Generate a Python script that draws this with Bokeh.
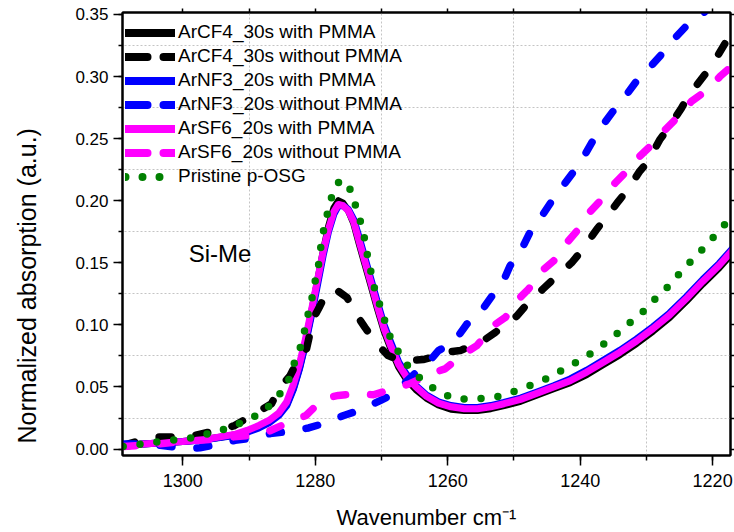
from bokeh.plotting import figure
from bokeh.models import (Range1d, SingleIntervalTicker, FixedTicker, LinearAxis,
                          Legend, LegendItem, Label, Title, NumeralTickFormatter,
                          CustomJSTickFormatter)
from bokeh.embed import file_html
from bokeh.resources import INLINE

FONT = "Liberation Sans"

# ---------------- data ----------------
wn_solid = [1309.0, 1306.0, 1303.0, 1300.0, 1297.0, 1294.4, 1292.0, 1290.3, 1288.5, 1287.0,
            1285.5, 1284.3, 1283.3, 1282.4, 1281.5, 1280.6, 1279.7, 1278.8, 1278.0, 1277.2,
            1276.5, 1275.8, 1275.0, 1274.2, 1273.4, 1272.5, 1271.6, 1270.6, 1269.6, 1268.6,
            1267.4, 1266.2, 1264.8, 1263.2, 1261.4, 1259.5, 1257.5, 1255.5, 1253.5, 1251.5,
            1249.0, 1246.5, 1244.0, 1241.5, 1239.0, 1236.5, 1234.0, 1231.5, 1229.0, 1226.5,
            1224.0, 1221.5, 1219.0, 1217.0]
arcf4_pmma = [0.002, 0.004, 0.005, 0.006, 0.0075, 0.0095, 0.0115, 0.014, 0.018, 0.022,
              0.028, 0.036, 0.049, 0.065, 0.085, 0.109, 0.134, 0.159, 0.179, 0.194,
              0.200, 0.198, 0.192, 0.182, 0.166, 0.149, 0.132, 0.113, 0.095, 0.081,
              0.066, 0.056, 0.048, 0.041, 0.0355, 0.032, 0.031, 0.031, 0.0325, 0.035,
              0.0385, 0.0435, 0.0485, 0.0535, 0.060, 0.068, 0.076, 0.085, 0.095, 0.106,
              0.119, 0.133, 0.146, 0.158]
arnf3_pmma = [0.003, 0.004, 0.005, 0.006, 0.0072, 0.0092, 0.011, 0.0135, 0.017, 0.021,
              0.027, 0.035, 0.048, 0.064, 0.084, 0.107, 0.131, 0.156, 0.175, 0.189,
              0.196, 0.196, 0.193, 0.185, 0.171, 0.154, 0.137, 0.118, 0.100, 0.086,
              0.070, 0.060, 0.051, 0.0435, 0.038, 0.035, 0.0335, 0.0335, 0.035, 0.0375,
              0.041, 0.046, 0.051, 0.0565, 0.0635, 0.0715, 0.0795, 0.0885, 0.0985, 0.1095,
              0.1225, 0.1365, 0.1495, 0.1615]
arsf6_pmma = [0.002, 0.004, 0.005, 0.006, 0.0075, 0.0098, 0.012, 0.015, 0.019, 0.023,
              0.029, 0.038, 0.052, 0.068, 0.088, 0.111, 0.135, 0.159, 0.177, 0.191,
              0.197, 0.196, 0.192, 0.183, 0.168, 0.151, 0.134, 0.115, 0.097, 0.083,
              0.068, 0.058, 0.050, 0.0425, 0.037, 0.034, 0.0325, 0.0325, 0.034, 0.0365,
              0.040, 0.045, 0.050, 0.055, 0.062, 0.070, 0.078, 0.087, 0.097, 0.108,
              0.121, 0.135, 0.148, 0.160]

wn_cf4_nopmma = [1309.0, 1306.4, 1303.9, 1300.6, 1298.1, 1294.9, 1292.3, 1289.1, 1286.6, 1285.3,
                 1283.8, 1282.3, 1281.3, 1280.3, 1279.3, 1278.5, 1277.7, 1276.5, 1275.2, 1274.0,
                 1272.5, 1270.7, 1269.0, 1267.5, 1266.2, 1263.7, 1261.5, 1260.5, 1258.1, 1254.7,
                 1252.8, 1249.6, 1248.3, 1245.6, 1244.0, 1241.3, 1239.8, 1237.5, 1236.5, 1234.2,
                 1233.0, 1231.0, 1229.7, 1228.0, 1226.9, 1224.7, 1223.7, 1221.4, 1220.1, 1218.1,
                 1217.0]
arcf4_nopmma = [0.003, 0.007, 0.0098, 0.0098, 0.011, 0.015, 0.0186, 0.0285, 0.0365, 0.050,
                0.059, 0.075, 0.081, 0.105, 0.115, 0.124, 0.1285, 0.127, 0.122, 0.110,
                0.098, 0.0847, 0.0753, 0.072, 0.0713, 0.0721, 0.075, 0.078, 0.0793, 0.087,
                0.094, 0.107, 0.115, 0.129, 0.137, 0.150, 0.1595, 0.177, 0.1836, 0.1997,
                0.2077, 0.2238, 0.2318, 0.249, 0.257, 0.2746, 0.284, 0.300, 0.309, 0.327,
                0.334]

wn_nf3_nopmma = [1309.0, 1305.0, 1301.9, 1299.0, 1297.4, 1295.4, 1292.1, 1290.1, 1286.8, 1284.5,
                 1281.0, 1278.8, 1275.7, 1273.4, 1270.2, 1268.2, 1264.7, 1263.5, 1261.4, 1259.1,
                 1257.1, 1255.2, 1253.3, 1251.8, 1250.6, 1249.1, 1247.6, 1246.3, 1244.5, 1243.0,
                 1240.0, 1238.0, 1236.7, 1234.5, 1233.2, 1231.0, 1229.2, 1227.2, 1225.7, 1223.4,
                 1221.4, 1219.5, 1217.0]
arnf3_nopmma = [0.004, 0.004, 0.002, 0.0005, 0.001, 0.003, 0.007, 0.0084, 0.0124, 0.0138,
                0.017, 0.0205, 0.027, 0.031, 0.039, 0.0445, 0.062, 0.066, 0.0793, 0.086,
                0.1007, 0.109, 0.1234, 0.1328, 0.1475, 0.158, 0.1743, 0.1836, 0.198, 0.209,
                0.2305, 0.249, 0.26, 0.276, 0.284, 0.300, 0.309, 0.321, 0.331, 0.344,
                0.351, 0.362, 0.376]

wn_sf6_nopmma = [1309.0, 1304.0, 1300.0, 1294.4, 1292.3, 1289.8, 1287.8, 1283.8, 1281.4, 1278.8,
                 1276.5, 1274.0, 1271.2, 1268.2, 1265.7, 1262.6, 1260.4, 1257.6, 1255.6, 1253.1,
                 1251.3, 1249.3, 1247.8, 1245.8, 1244.0, 1242.0, 1240.5, 1238.7, 1237.0, 1234.7,
                 1233.2, 1231.0, 1229.2, 1227.2, 1225.4, 1223.2, 1221.1, 1218.9, 1217.0]
arsf6_nopmma = [0.002, 0.004, 0.006, 0.0084, 0.0098, 0.011, 0.0124, 0.022, 0.027, 0.0405,
                0.0432, 0.0445, 0.0437, 0.0486, 0.0526, 0.0606, 0.0646, 0.0766, 0.0833, 0.0994,
                0.106, 0.1208, 0.1288, 0.1435, 0.1515, 0.1663, 0.1756, 0.19, 0.1997, 0.2144,
                0.2225, 0.2358, 0.245, 0.257, 0.2666, 0.28, 0.288, 0.300, 0.309]

wn_pristine = [1309.0, 1308.2, 1305.7, 1303.2, 1300.6, 1298.3, 1295.8, 1293.4, 1291.2, 1288.9,
               1286.7, 1285.2, 1284.0, 1283.2, 1282.3, 1281.7, 1281.2, 1280.6, 1280.2, 1279.6,
               1279.3, 1279.0, 1278.5, 1277.9, 1277.3, 1276.2, 1274.6, 1273.9, 1273.2, 1272.6,
               1272.2, 1271.7, 1271.2, 1270.5, 1269.7, 1269.1, 1267.9, 1266.6, 1265.0, 1263.2,
               1261.1, 1258.9, 1256.4, 1254.1, 1251.5, 1249.2, 1246.8, 1244.5, 1242.4, 1240.3,
               1238.1, 1236.1, 1234.2, 1232.3, 1230.5, 1228.7, 1226.9, 1225.3, 1223.7, 1222.0,
               1220.3, 1218.6, 1217.0]
pristine = [0.002, 0.0026, 0.0044, 0.0063, 0.0076, 0.0092, 0.013, 0.0165, 0.021, 0.027,
            0.0357, 0.0453, 0.0558, 0.0686, 0.081, 0.093, 0.106, 0.118, 0.131, 0.144,
            0.157, 0.169, 0.1826, 0.195, 0.2077, 0.217, 0.2085, 0.1957, 0.1836, 0.1705,
            0.158, 0.1457, 0.132, 0.12, 0.1074, 0.0946, 0.0825, 0.0705, 0.0611, 0.0526,
            0.0453, 0.0405, 0.040, 0.041, 0.0432, 0.048, 0.0526, 0.058, 0.0646, 0.0708,
            0.078, 0.086, 0.094, 0.1026, 0.1106, 0.1208, 0.1299, 0.1395, 0.1489, 0.158,
            0.1684, 0.1775, 0.190]

series_labels = ["ArCF4_30s with PMMA", "ArCF4_30s without PMMA",
                 "ArNF3_20s with PMMA", "ArNF3_20s without PMMA",
                 "ArSF6_20s with PMMA", "ArSF6_20s without PMMA",
                 "Pristine p-OSG"]

x_grid_ticks = [1290, 1270, 1250, 1230]
y_grid_ticks = [0.025, 0.075, 0.125, 0.175, 0.225, 0.275, 0.325]
x_mirror_ticks = [1300, 1290, 1280, 1270, 1260, 1250, 1240, 1230, 1220]
y_mirror_ticks = [0.0, 0.025, 0.05, 0.075, 0.1, 0.125, 0.15, 0.175, 0.2, 0.225,
                  0.25, 0.275, 0.3, 0.325, 0.35]
spacer_ticks = [0.2]

# ---------------- figure ----------------
p = figure(width=734, height=532, output_backend="svg", toolbar_location=None, title=None,
           x_range=Range1d(1309.1, 1217.3), y_range=Range1d(-0.0052, 0.3516),
           min_border_left=122, min_border_right=4, min_border_top=12, min_border_bottom=76)
p.background_fill_color = "white"
p.border_fill_color = "white"
p.outline_line_color = "black"
p.outline_line_width = 2

xa = p.xaxis[0]
xa.ticker = SingleIntervalTicker(interval=20, num_minor_ticks=2)
xa.major_tick_out = 10
xa.minor_tick_out = 5
xa.major_label_standoff = 8
xa.major_label_text_font_size = "18px"
xa.axis_label = "Wavenumber cm\u207b\u00b9"
xa.axis_label_text_font = FONT
xa.axis_label_text_font_style = "normal"
xa.axis_label_text_font_size = "22px"
xa.axis_label_text_color = "black"
xa.axis_label_standoff = 15

ya = p.yaxis[0]
ya.ticker = SingleIntervalTicker(interval=0.05, num_minor_ticks=2)
ya.formatter = NumeralTickFormatter(format="0.00")
ya.major_tick_out = 9
ya.minor_tick_out = 4
ya.major_label_standoff = 5
ya.major_label_text_font_size = "17px"

for ax in (xa, ya):
    ax.axis_line_color = "black"
    ax.axis_line_width = 2
    ax.major_tick_in = 0
    ax.minor_tick_in = 0
    ax.major_tick_line_width = 1.5
    ax.minor_tick_line_width = 1.5
    ax.major_tick_line_color = "black"
    ax.minor_tick_line_color = "black"
    ax.major_label_text_font = FONT
    ax.major_label_text_color = "black"

# mirror axes: tick marks only, no labels
top_ax = LinearAxis(ticker=FixedTicker(ticks=[], minor_ticks=x_mirror_ticks))
right_ax = LinearAxis(ticker=FixedTicker(ticks=[], minor_ticks=y_mirror_ticks))
for ax in (top_ax, right_ax):
    ax.major_label_standoff = 0
    ax.major_tick_in = 0
    ax.minor_tick_in = 0
    ax.major_tick_out = 0
    ax.minor_tick_out = 4
    ax.minor_tick_line_width = 1.5
    ax.minor_tick_line_color = "black"
    ax.axis_line_color = "black"
    ax.axis_line_width = 2
p.add_layout(top_ax, "above")
p.add_layout(right_ax, "right")

# blank spacer between the y tick labels and the y title (white tick, empty label)
spacer = LinearAxis(ticker=FixedTicker(ticks=spacer_ticks, minor_ticks=[]),
                    formatter=CustomJSTickFormatter(code="return ''"),
                    major_tick_out=21, major_tick_in=0, minor_tick_out=0, minor_tick_in=0,
                    major_label_standoff=0, axis_line_color=None,
                    major_tick_line_color="white", major_tick_line_width=1)
p.add_layout(spacer, "left")

# y-axis title as a left-side title, anchored from the bottom of the frame
ytitle = Title(text="Normalized absorption (a.u.)", align="left", offset=12,
               text_font=FONT, text_font_size="25px", text_font_style="normal",
               text_color="black")
if "standoff" in Title.properties():
    ytitle.standoff = 21
p.add_layout(ytitle, "left")

p.xgrid.ticker = FixedTicker(ticks=x_grid_ticks)
p.ygrid.ticker = FixedTicker(ticks=y_grid_ticks)
for g in (p.xgrid[0], p.ygrid[0]):
    g.grid_line_color = "#c4c4c4"
    g.grid_line_dash = "2 2"
    g.grid_line_width = 1

# ---------------- curves ----------------
common = dict(line_cap="round", line_join="round")
p.line(wn_solid, arcf4_pmma, line_color="black", line_width=7, **common)
p.line(wn_solid, arnf3_pmma, line_color="#0000ff", line_width=7, **common)
p.line(wn_solid, arsf6_pmma, line_color="#ff00ff", line_width=7, **common)
p.line(wn_cf4_nopmma, arcf4_nopmma, line_color="black", line_width=7.5, line_dash="12 25", **common)
p.line(wn_nf3_nopmma, arnf3_nopmma, line_color="#0000ff", line_width=7.5, line_dash="12 25", **common)
p.line(wn_sf6_nopmma, arsf6_nopmma, line_color="#ff00ff", line_width=7.5, line_dash="12 25", **common)
p.line(wn_pristine, pristine, line_color="#008000", line_width=7.5, line_dash="0 17", **common)

# ---------------- legend (legend-only glyphs) ----------------
nan = [float("nan")]
leg_styles = [
    dict(line_color="black"),
    dict(line_color="black", line_dash="22 16"),
    dict(line_color="#0000ff"),
    dict(line_color="#0000ff", line_dash="22 16"),
    dict(line_color="#ff00ff"),
    dict(line_color="#ff00ff", line_dash="22 16"),
    dict(line_color="#008000", line_dash="0 17"),
]
items = []
for lab, st in zip(series_labels, leg_styles):
    r = p.line(nan, nan, line_width=8, **common, **st)
    items.append(LegendItem(label=lab, renderers=[r]))

legend = Legend(items=items, location=(3, 268), margin=0, padding=0, spacing=2,
                glyph_width=50, glyph_height=21, label_height=21, label_standoff=3,
                background_fill_alpha=0, border_line_alpha=0,
                label_text_font=FONT, label_text_font_size="19px", label_text_color="black")
p.add_layout(legend)

# ---------------- texts ----------------
p.add_layout(Label(x=1299.1, y=0.1575, text="Si-Me", text_font=FONT, text_font_size="24px",
                   text_align="left", text_baseline="alphabetic", text_color="black"))

open("out.html", "w").write(file_html(p, INLINE))
